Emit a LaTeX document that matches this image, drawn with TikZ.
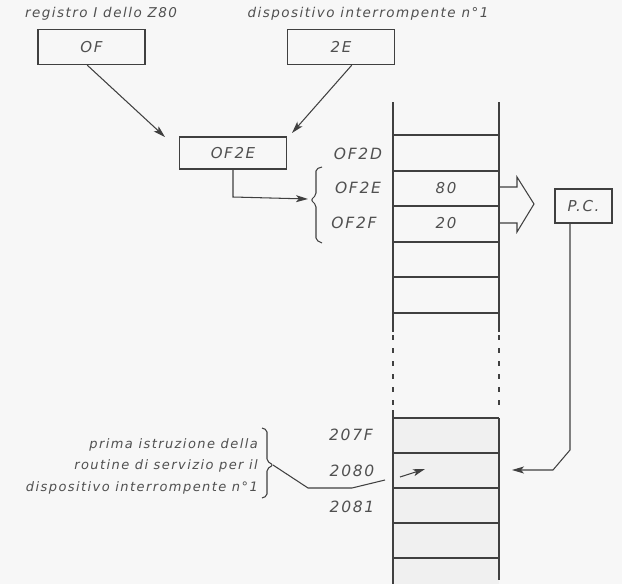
\documentclass[tikz,border=0pt]{standalone}
\usepackage{fontspec}
\setmainfont{DejaVu Sans}[LetterSpace=11]
\usetikzlibrary{arrows.meta,calc}
\definecolor{ink}{HTML}{404040}
\definecolor{txt}{HTML}{505050}
\begin{document}
\begin{tikzpicture}[x=1pt,y=-1pt,
  line/.style={draw=ink,line width=1.2pt},
  thin/.style={draw=ink,line width=1.05pt},
  tip/.style={-{Stealth[length=12pt,width=7pt,inset=3pt]}},
  regbox/.style={draw=ink,line width=1.2pt,minimum width=107pt,minimum height=35pt,inner sep=0pt,
    font=\fontsize{15}{17}\selectfont\itshape,text=txt},
  note/.style={font=\fontsize{13.5}{15}\selectfont\itshape,text=txt,inner sep=0pt},
  addr/.style={font=\fontsize{15.5}{17}\selectfont\itshape,text=txt,inner sep=0pt},
  cell/.style={font=\fontsize{15}{17}\selectfont\itshape,text=txt,inner sep=0pt}]
\fill[white!97!black] (0,0) rectangle (622,584);
\useasboundingbox (0,0) rectangle (622,584);

% captions and source registers
\node[note] (capI) at (101,14) {registro I dello Z80};
\node[note] (capD) at (368,14) {dispositivo interrompente n°1};
\node[regbox] (regI) at (91.5,47) {OF};
\node[regbox] (regD) at (341,47) {2E};
\node[regbox,minimum height=32pt] (vec) at (233,153) {OF2E};

% combining the two bytes into the vector address
\coordinate (vin1) at (165,137);
\coordinate (vin2) at (292,133);
\draw[thin,tip] ($(regI.south west)!0.46!(regI.south east)$) -- (vin1);
\draw[thin,tip] ($(regD.south west)!0.60!(regD.south east)$) -- (vin2);

% memory column, upper part
\def\xL{393}\def\xR{499}
\draw[line] (\xL,102) -- (\xL,332);
\draw[line] (\xR,102) -- (\xR,332);
\foreach \y in {135,171,206,242,277,313}
  \draw[line] (\xL,\y) -- (\xR,\y);
\draw[line,dash pattern=on 5pt off 8pt] (\xL,335) -- (\xL,410);
\draw[line,dash pattern=on 5pt off 8pt] (\xR,335) -- (\xR,410);

% memory column, lower part
\fill[white!94!black] (\xL,418) rectangle (\xR,584);
\draw[line] (\xL,410) -- (\xL,584);
\draw[line] (\xR,418) -- (\xR,580);
\foreach \y in {418,453,488,523,558}
  \draw[line] (\xL,\y) -- (\xR,\y);

% addresses and contents
\node[addr] (a2D) at (358,154) {OF2D};
\node[addr] (a2E) at (358,188) {OF2E};
\node[addr] (a2F) at (354,223) {OF2F};
\node[cell] (c80) at (446,188) {80};
\node[cell] (c20) at (446,223) {20};
\node[addr] (a7F) at (351,435) {207F};
\node[addr] (a80) at (352,471) {2080};
\node[addr] (a81) at (352,507) {2081};

% brace grouping OF2E / OF2F
\draw[thin,rounded corners=2pt] (322,167) -- (316,169) -- (316,195) -- (311,200)
  -- (316,205) -- (316,240) -- (322,243);
\coordinate (brtip) at (308,199);
\draw[thin,tip] (vec.south) -- (233,197) -- (brtip);

% hollow arrow into the program counter
\draw[thin,line join=miter] (\xR,187) -- (517,187) -- (517,177) -- (534,204)
  -- (517,232) -- (517,223) -- (\xR,223);
\node[regbox,minimum width=57pt,minimum height=34pt] (pc) at (583.5,206) {P.C.};

% program counter pointing at 2080
\coordinate (pcend) at (512,470);
\draw[thin,tip] (pc.south -| 570,0) -- (570,450) -- (553,470) -- (pcend);
\coordinate (ps) at (400,477);
\coordinate (pe) at (425,469);
\draw[thin,tip] (ps) -- (pe);

% comment on the first instruction of the service routine
\node[note,align=right,anchor=east,font=\fontsize{13}{21.5}\selectfont\itshape] (rout) at (258,466)
  {prima istruzione della\\routine di servizio per il\\dispositivo interrompente n°1};
\draw[thin,rounded corners=2pt] (262,428) -- (267,430) -- (267,461) -- (273,465)
  -- (267,469) -- (267,496) -- (262,498);
\draw[thin] (273,465) -- (308,488) -- (352,488) -- (385,480);
\end{tikzpicture}
\end{document}
